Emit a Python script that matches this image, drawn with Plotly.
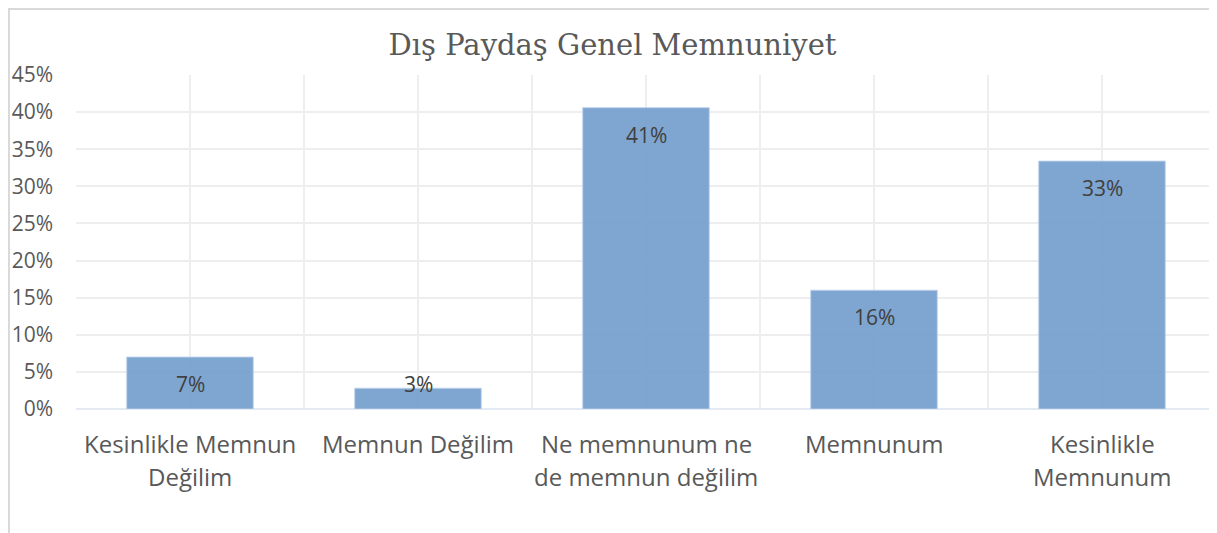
import plotly.graph_objects as go

# ---- data ----
categories = [
    "Kesinlikle Memnun<br>Değilim",
    "Memnun Değilim",
    "Ne memnunum ne<br>de memnun değilim",
    "Memnunum",
    "Kesinlikle<br>Memnunum",
]
values = [7.0, 2.8, 40.6, 16.0, 33.4]  # percent
title_text = "Dış Paydaş Genel Memnuniyet"
y_ticks = [0, 5, 10, 15, 20, 25, 30, 35, 40, 45]

TEXT = "#595959"
GRID = "#EEEEEE"
FONT = "Open Sans"

x_pos = list(range(len(categories)))

fig = go.Figure()
fig.add_trace(go.Bar(
    x=x_pos,
    y=values,
    width=0.555,
    marker=dict(color="rgba(113,156,203,0.9)",
                line=dict(color="rgba(190,210,235,0.9)", width=1)),
    hoverinfo="skip",
))

annotations = []
# data labels (inside end)
for xi, v in zip(x_pos, values):
    annotations.append(dict(
        x=xi, y=max(v, 7.0), xref="x", yref="y",
        text=f"{round(v)}%", showarrow=False,
        yanchor="middle", yshift=-27,
        font=dict(family=FONT, size=21, color="#404040"),
    ))
# category labels, one annotation per line for Excel-like spacing
for xi, cat in zip(x_pos, categories):
    for li, line in enumerate(cat.split("<br>")):
        annotations.append(dict(
            x=xi, y=0, xref="x", yref="paper",
            text=line, showarrow=False,
            yanchor="middle", yshift=-34 - 33 * li,
            font=dict(family=FONT, size=24, color=TEXT),
        ))

# the page body adds an 8px margin, so the figure is 8px smaller each way
fig.update_layout(
    width=1209, height=525,
    paper_bgcolor="white", plot_bgcolor="white",
    margin=dict(l=68, r=1, t=67, b=124),
    showlegend=False,
    title=dict(text=title_text, x=0.5, xanchor="center", y=0.93, yanchor="middle",
               font=dict(family="DejaVu Serif", size=29, color=TEXT)),
    annotations=annotations,
    shapes=[dict(type="rect", xref="paper", yref="paper",
                 x0=-0.0588, x1=1.0, y0=-0.5, y1=1.1976,
                 line=dict(color="#D9D9D9", width=2), fillcolor="rgba(0,0,0,0)",
                 layer="below")],
)
fig.update_xaxes(
    range=[-0.5, 4.5], tickmode="linear", tick0=-0.5, dtick=0.5,
    showticklabels=False, showgrid=True, gridcolor=GRID, gridwidth=2,
    zeroline=False, showline=False, fixedrange=True,
)
fig.update_yaxes(
    range=[0, 45], tickmode="array", tickvals=y_ticks,
    ticktext=[f"{t}%" for t in y_ticks],
    showgrid=True, gridcolor=GRID, gridwidth=2,
    zeroline=True, zerolinecolor="#E4EAF3", zerolinewidth=2,
    ticklabelstandoff=22,
    tickfont=dict(family=FONT, size=21, color=TEXT),
    showline=False, fixedrange=True,
)

fig.write_html("out.html")
